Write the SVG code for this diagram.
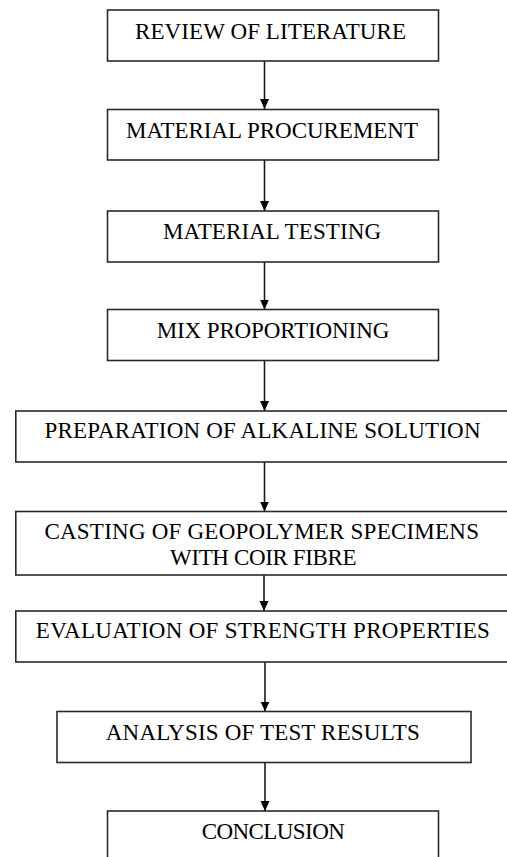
<svg xmlns="http://www.w3.org/2000/svg" width="507" height="857" viewBox="0 0 507 857">
<defs>
<style>
.box{fill:#fff;stroke:#2a2a2a;stroke-width:1.6}
.t{font-family:"Liberation Serif","Times New Roman",serif;font-size:23px;fill:#000;text-anchor:middle}
.c{stroke:#1a1a1a;stroke-width:1.6;fill:none}
</style>
<marker id="ah" viewBox="0 0 10 10" refX="10" refY="5" markerWidth="10" markerHeight="10" markerUnits="userSpaceOnUse" orient="auto">
<path d="M0,0.5 L10,5 L0,9.5 Z" fill="#000"/>
</marker>
</defs>
<rect width="507" height="857" fill="#fff"/>
<g id="connectors">
<line class="c" x1="264.5" y1="61" x2="264.5" y2="109" marker-end="url(#ah)"/>
<line class="c" x1="264.5" y1="160" x2="264.5" y2="211" marker-end="url(#ah)"/>
<line class="c" x1="264.5" y1="262" x2="264.5" y2="309.5" marker-end="url(#ah)"/>
<line class="c" x1="264.5" y1="360.5" x2="264.5" y2="411" marker-end="url(#ah)"/>
<line class="c" x1="264.5" y1="462" x2="264.5" y2="511.5" marker-end="url(#ah)"/>
<line class="c" x1="264" y1="575" x2="264" y2="611" marker-end="url(#ah)"/>
<line class="c" x1="265" y1="662" x2="265" y2="711.5" marker-end="url(#ah)"/>
<line class="c" x1="265" y1="762.5" x2="265" y2="811" marker-end="url(#ah)"/>
</g>
<g id="n1"><rect class="box" x="107.5" y="10" width="331" height="51"/><text class="t" x="270.5" y="39" textLength="271" lengthAdjust="spacing">REVIEW OF LITERATURE</text></g>
<g id="n2"><rect class="box" x="107.5" y="109.5" width="331" height="50.5"/><text class="t" x="272" y="137.5" textLength="292" lengthAdjust="spacing">MATERIAL PROCUREMENT</text></g>
<g id="n3"><rect class="box" x="107.5" y="211" width="331" height="51"/><text class="t" x="272" y="238.5" textLength="218" lengthAdjust="spacing">MATERIAL TESTING</text></g>
<g id="n4"><rect class="box" x="107.5" y="309.5" width="331" height="51"/><text class="t" x="273" y="338" textLength="232.5" lengthAdjust="spacing">MIX PROPORTIONING</text></g>
<g id="n5"><rect class="box" x="15.8" y="411" width="500" height="51"/><text class="t" x="262.5" y="438" textLength="436" lengthAdjust="spacing">PREPARATION OF ALKALINE SOLUTION</text></g>
<g id="n6"><rect class="box" x="15.8" y="511.5" width="500" height="63.5"/><text class="t" x="261.7" y="539" textLength="434.5" lengthAdjust="spacing">CASTING OF GEOPOLYMER SPECIMENS</text><text class="t" x="263.3" y="565" textLength="186.5" lengthAdjust="spacing">WITH COIR FIBRE</text></g>
<g id="n7"><rect class="box" x="15.8" y="611" width="500" height="51"/><text class="t" x="262.8" y="638" textLength="454" lengthAdjust="spacing">EVALUATION OF STRENGTH PROPERTIES</text></g>
<g id="n8"><rect class="box" x="57" y="711.5" width="414" height="51"/><text class="t" x="262.8" y="740" textLength="314" lengthAdjust="spacing">ANALYSIS OF TEST RESULTS</text></g>
<g id="n9"><rect class="box" x="107.5" y="811" width="331" height="60"/><text class="t" x="273.3" y="838.5" textLength="143" lengthAdjust="spacing">CONCLUSION</text></g>
</svg>
